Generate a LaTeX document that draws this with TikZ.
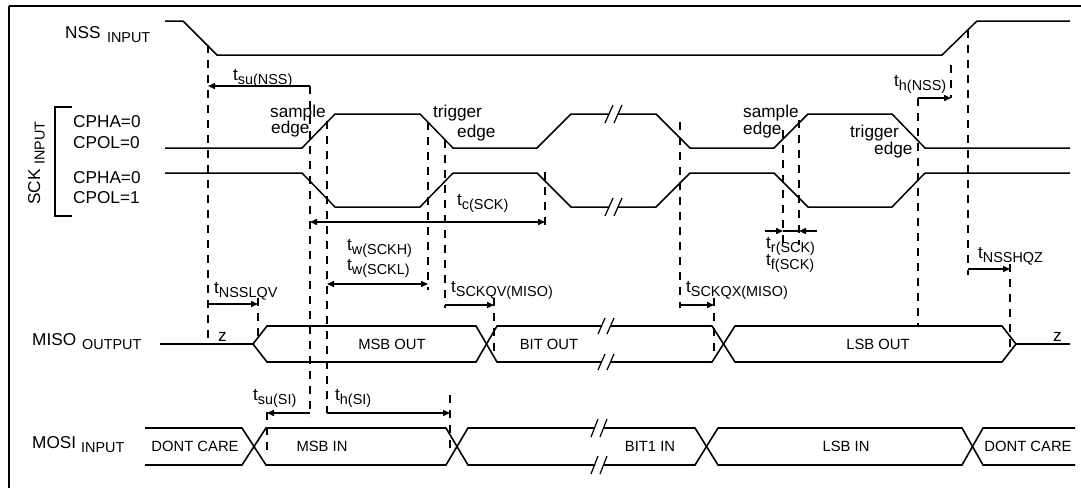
\documentclass[tikz,border=0pt]{standalone}
\usepackage{fontspec}
\setmainfont{Liberation Sans}
\usetikzlibrary{arrows.meta}
\newcommand{\tsb}[1]{\raisebox{-4.5pt}{\fontsize{14.4}{16}\selectfont #1}}
\begin{document}
\begin{tikzpicture}[x=1pt,y=-1pt,
  sig/.style={line width=1.5pt, line join=miter, line cap=butt},
  bus/.style={line width=1.6pt},
  brk/.style={line width=1.2pt},
  dsh/.style={line width=1.8pt, dash pattern=on 8pt off 7pt},
  tarr/.style={line width=1.5pt, -{Triangle[length=7pt,width=6pt]}},
  darr/.style={line width=1.5pt, {Triangle[length=7pt,width=6pt]}-{Triangle[length=7pt,width=6pt]}},
  lbl/.style={font=\fontsize{17.2}{20}\selectfont, inner sep=0pt, anchor=base west},
  blbl/.style={font=\fontsize{14.8}{17}\selectfont, inner sep=0pt, anchor=center},
]
\useasboundingbox (0,0) rectangle (1081,488);
% frame
\draw[line width=2pt] (9,6) -- (1081,6);
\draw[line width=1.3pt] (9,6) -- (9,488);

% labels on the left
\node[lbl] (nss) at (65,38) {NSS\hspace{6.5pt}\tsb{INPUT}};
\node[lbl, rotate=90] (sck) at (40,205) {SCK\hspace{5pt}\tsb{INPUT}};
\draw[line width=1.3pt] (72,107) -- (55,107) -- (55,216) -- (72,216);
\node[lbl] (cpha0) at (73,127) {CPHA=0};
\node[lbl] (cpol0) at (73,148) {CPOL=0};
\node[lbl] (cpha1) at (73,183) {CPHA=0};
\node[lbl] (cpol1) at (73,203) {CPOL=1};
\node[lbl] (miso) at (32,345) {MISO\hspace{6pt}\tsb{OUTPUT}};
\node[lbl] (mosi) at (32,448) {MOSI\hspace{5pt}\tsb{INPUT}};

% NSS
\draw[sig] (165,21) -- (183,21) -- (217,55) -- (942,55) -- (977,21) -- (1070,21);

% SCK CPOL=0
\draw[sig] (165,148) -- (302,148) -- (335,114) -- (420,114) -- (453,148) -- (537,148) -- (571,114) -- (609,114);
\draw[sig] (618,114) -- (656,114) -- (690,148) -- (774,148) -- (808,114) -- (892,114) -- (925,148) -- (1070,148);
\draw[brk] (605,123) -- (613,105) (614,123) -- (622,105);
% SCK CPOL=1
\draw[sig] (165,173) -- (302,173) -- (335,207) -- (420,207) -- (453,173) -- (537,173) -- (571,207) -- (609,207);
\draw[sig] (618,207) -- (656,207) -- (690,173) -- (774,173) -- (808,207) -- (892,207) -- (925,173) -- (1070,173);
\draw[brk] (605,216) -- (613,198) (614,216) -- (622,198);

% edge labels
\node[lbl] (se1a) at (270,117) {sample};
\node[lbl] (se1b) at (271,133) {edge};
\node[lbl] (te1a) at (433,117) {trigger};
\node[lbl] (te1b) at (457,137) {edge};
\node[lbl] (se2a) at (743,117) {sample};
\node[lbl] (se2b) at (743,134) {edge};
\node[lbl] (te2a) at (850,137) {trigger};
\node[lbl] (te2b) at (874,154) {edge};

% MISO bus
\draw[bus] (160,344) -- (253,344) -- (267,326) -- (476,326) -- (497,362) -- (601,362);
\draw[bus] (253,344) -- (267,362) -- (476,362) -- (497,326) -- (601,326);
\draw[bus] (610,326) -- (712,326) -- (735,362) -- (1002,362) -- (1016,344) -- (1070,344);
\draw[bus] (610,362) -- (712,362) -- (735,326) -- (1002,326) -- (1016,344);
\draw[brk] (598,334) -- (605,318) (607,334) -- (614,318);
\draw[brk] (598,370) -- (605,354) (607,370) -- (614,354);
\node[lbl] (z1) at (218,341) {z};
\node[lbl] (z2) at (1053,341) {z};
\node[blbl] (msbout) at (392,344) {MSB OUT};
\node[blbl] (bitout) at (549,344) {BIT OUT};
\node[blbl] (lsbout) at (878,344) {LSB OUT};

% MOSI bus
\draw[bus] (145,428) -- (242,428) -- (266,465) -- (446,465) -- (468,428) -- (595,428);
\draw[bus] (145,465) -- (242,465) -- (266,428) -- (446,428) -- (468,465) -- (595,465);
\draw[bus] (604,428) -- (695,428) -- (718,465) -- (962,465) -- (983,428) -- (1075,428);
\draw[bus] (604,465) -- (695,465) -- (718,428) -- (962,428) -- (983,465) -- (1075,465);
\draw[brk] (591,437) -- (598,419) (600,437) -- (607,419);
\draw[brk] (591,474) -- (598,456) (600,474) -- (607,456);
\node[blbl] (dc1) at (195,446) {DONT CARE};
\node[blbl] (msbin) at (322,446) {MSB IN};
\node[blbl] (bit1in) at (650,446) {BIT1 IN};
\node[blbl] (lsbin) at (846,446) {LSB IN};
\node[blbl] (dc2) at (1028,446) {DONT CARE};

% dashed reference lines
\foreach \x/\ya/\yb in {208/45/340, 310/86/416, 327/121/413, 428/122/290, 445/140/308,
  545/172/225, 680/122/308, 783/130/245, 799/120/245, 918/98/325, 951/65/98,
  968/30/275, 1010/264/352, 258/298/338, 494/298/352, 714/298/352, 450/395/450, 267/412/455}
  \draw[dsh] (\x,\ya) -- (\x,\yb);

% timing arrows
\draw[tarr] (310,86) -- (208,86);
\node[lbl] (tsunss) at (233,80) {t\tsb{su(NSS)}};
\draw[tarr] (918,98) -- (951,98);
\node[lbl] (thnss) at (894,86) {t\tsb{h(NSS)}};
\draw[darr] (310,222) -- (545,222);
\node[lbl] (tcsck) at (457,205) {t\tsb{c(SCK)}};
\draw[darr] (327,284) -- (428,284);
\node[lbl] (twh) at (347,250) {t\tsb{w(SCKH)}};
\node[lbl] (twl) at (347,270) {t\tsb{w(SCKL)}};
\draw[tarr] (208,304) -- (258,304);
\node[lbl] (tnsslqv) at (214,293) {t\tsb{NSSLQV}};
\draw[tarr] (445,305) -- (494,305);
\node[lbl] (tsckqv) at (451,292) {t\tsb{SCKQV(MISO)}};
\draw[tarr] (680,305) -- (714,305);
\node[lbl] (tsckqx) at (686,292) {t\tsb{SCKQX(MISO)}};
\draw[tarr] (765,231) -- (783,231);
\draw[line width=1.5pt] (783,231) -- (799,231);
\draw[tarr] (817,231) -- (799,231);
\node[lbl] (trsck) at (766,248) {t\tsb{r(SCK)}};
\node[lbl] (tfsck) at (766,265) {t\tsb{f(SCK)}};
\draw[tarr] (968,269) -- (1010,269);
\node[lbl] (tnsshqz) at (978,258) {t\tsb{NSSHQZ}};
\draw[tarr] (310,413) -- (267,413);
\node[lbl] (tsusi) at (253,400) {t\tsb{su(SI)}};
\draw[tarr] (327,413) -- (450,413);
\node[lbl] (thsi) at (335,400) {t\tsb{h(SI)}};
\end{tikzpicture}
\end{document}
